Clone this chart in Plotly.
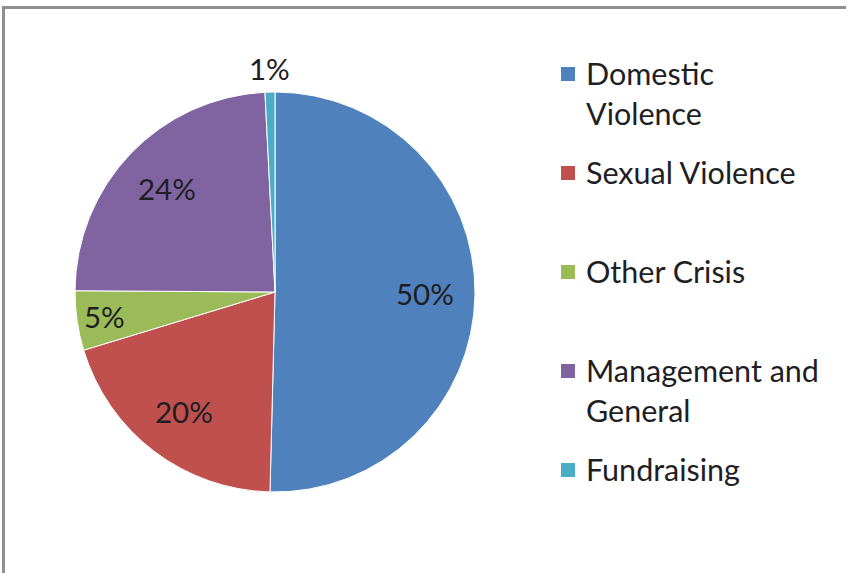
import math
import plotly.graph_objects as go

# Data
categories = ["Domestic Violence", "Sexual Violence", "Other Crisis",
              "Management and General", "Fundraising"]
values = [50.4, 19.9, 4.8, 24.1, 0.8]
legend_labels = ["Domestic<br>Violence", "Sexual Violence", "Other Crisis",
                 "Management and<br>General", "Fundraising"]
colors = ["#4F81BD", "#C0504D", "#9BBB59", "#8064A2", "#4BACC6"]

W, H = 848, 573
FONT = "Lato, 'Open Sans', sans-serif"
TXT = "#1e1e24"

# pie geometry (pixels)
PX0, PX1, PY0, PY1 = 75, 475, 92, 492
CX, CY = (PX0 + PX1) / 2, (PY0 + PY1) / 2
R = (PX1 - PX0) / 2

fig = go.Figure()
fig.add_trace(go.Pie(
    labels=categories,
    values=values,
    sort=False,
    direction="clockwise",
    rotation=0,
    marker=dict(colors=colors, line=dict(color="white", width=1)),
    textinfo="none",
    showlegend=False,
    domain=dict(x=[PX0 / W, PX1 / W], y=[1 - PY1 / H, 1 - PY0 / H]),
    hoverinfo="label+percent",
))

shapes = []
annotations = []

# Data labels placed Excel-style (best fit) from the slice angles
total = sum(values)
cum = 0.0
for v in values:
    share = v / total
    mid = (cum + share / 2) * 2 * math.pi
    cum += share
    if share < 0.03:
        rf = 1.12          # outside end
    elif share < 0.10:
        rf = 0.86
    else:
        rf = 0.75
    x = CX + rf * R * math.sin(mid)
    y = CY - rf * R * math.cos(mid)
    annotations.append(dict(xref="paper", yref="paper",
                            x=x / W, y=1 - y / H,
                            xanchor="center", yanchor="middle",
                            text=f"{round(share * 100)}%", showarrow=False,
                            font=dict(family=FONT, size=29.5, color=TXT)))

# Manual legend (Excel-like spacing)
first_center = 74
step = 99
LF = 30.5
for i, (lab, col) in enumerate(zip(legend_labels, colors)):
    cy = first_center + step * i
    shapes.append(dict(type="rect", xref="paper", yref="paper",
                       x0=561 / W, x1=575 / W,
                       y0=1 - (cy + 7) / H, y1=1 - (cy - 7) / H,
                       fillcolor=col, line=dict(width=0)))
    annotations.append(dict(xref="paper", yref="paper",
                            x=584 / W, y=1 - (cy - (1 + 0.65 * LF)) / H,
                            xanchor="left", yanchor="top", align="left",
                            text=lab, showarrow=False,
                            font=dict(family=FONT, size=LF, color=TXT)))

# Chart border (top and left visible)
shapes.append(dict(type="line", xref="paper", yref="paper",
                   x0=3 / W, x1=846 / W, y0=1 - 7.5 / H, y1=1 - 7.5 / H,
                   line=dict(color="#8f8f8f", width=3)))
shapes.append(dict(type="line", xref="paper", yref="paper",
                   x0=3.5 / W, x1=3.5 / W, y0=0, y1=1 - 6 / H,
                   line=dict(color="#8f8f8f", width=3)))

fig.update_layout(
    width=W, height=H,
    margin=dict(l=0, r=0, t=0, b=0),
    paper_bgcolor="white",
    plot_bgcolor="white",
    shapes=shapes,
    annotations=annotations,
    font=dict(family=FONT, color=TXT),
)

fig.write_html("out.html")
